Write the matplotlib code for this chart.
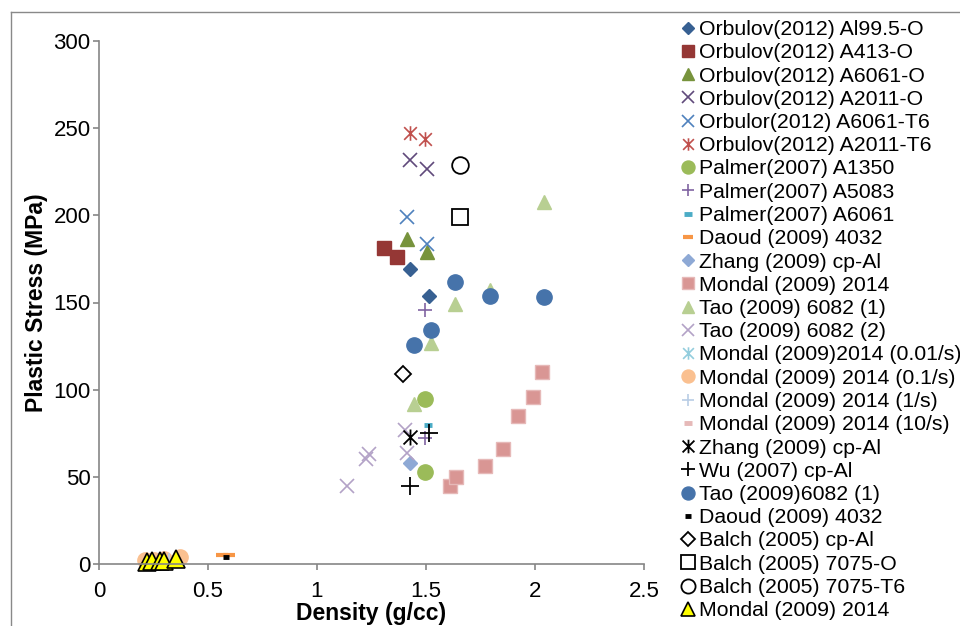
import matplotlib
matplotlib.use("Agg")
import matplotlib.pyplot as plt
from matplotlib.path import Path
from matplotlib.lines import Line2D

plt.rcParams["font.family"] = ["Liberation Sans", "DejaVu Sans"]

# data (density g/cc, plastic stress MPa)
orb_al995_x = [1.425, 1.512]
orb_al995_y = [169, 154]
orb_a413_x = [1.307, 1.365]
orb_a413_y = [181, 176]
orb_a6061o_x = [1.414, 1.503]
orb_a6061o_y = [186.5, 179]
orb_a2011o_x = [1.425, 1.503]
orb_a2011o_y = [232, 226.5]
orb_a6061t6_x = [1.414, 1.503]
orb_a6061t6_y = [199, 183.5]
orb_a2011t6_x = [1.425, 1.494]
orb_a2011t6_y = [247.5, 243.5]
pal_a1350_x = [1.494, 1.494]
pal_a1350_y = [94.5, 53]
pal_a5083_x = [1.494, 1.494]
pal_a5083_y = [145.5, 72]
pal_a6061_x = [1.509]
pal_a6061_y = [79.5]
daoud_x = [0.565, 0.595]
daoud_y = [5.2, 5.2]
zhang_x = [1.425]
zhang_y = [58]
mondal_x = [1.608, 1.636, 1.771, 1.852, 1.922, 1.991, 2.030]
mondal_y = [45, 50, 56, 66, 85, 96, 110]
tao1_x = [1.444, 1.524, 1.633, 1.792, 2.042]
tao1_y = [92, 127, 149, 157, 207.5]
tao2_x = [1.138, 1.225, 1.240, 1.403, 1.414]
tao2_y = [44.5, 60, 63, 77, 63.5]
mondal_001_x = [0.23, 0.27, 0.31]
mondal_001_y = [1.0, 1.5, 2.0]
mondal_01_x = [0.21, 0.25, 0.30, 0.37]
mondal_01_y = [2.3, 2.5, 3.0, 3.8]
mondal_1_x = [0.24, 0.28, 0.32]
mondal_1_y = [1.2, 1.6, 2.2]
mondal_10_x = [0.25, 0.29, 0.34]
mondal_10_y = [1.3, 1.8, 2.5]
zhang_b_x = [1.425]
zhang_b_y = [73]
wu_x = [1.425, 1.513]
wu_y = [44.7, 75]
tao1b_x = [1.444, 1.524, 1.633, 1.792, 2.042]
tao1b_y = [125.5, 134.5, 162, 154, 153]
daoud_b_x = [0.584]
daoud_b_y = [3.8]
balch_cp_x = [1.396]
balch_cp_y = [109]
balch_o_x = [1.654]
balch_o_y = [199]
balch_t6_x = [1.654]
balch_t6_y = [229]
mondal_y_x = [0.22, 0.245, 0.28, 0.30, 0.355]
mondal_y_y = [1.0, 1.5, 2.0, 2.0, 3.0]

star = Path([(-1, -1), (1, 1), (-1, 1), (1, -1), (0, -1.15), (0, 1.15)],
            [Path.MOVETO, Path.LINETO, Path.MOVETO, Path.LINETO,
             Path.MOVETO, Path.LINETO])

series = [
    ("Orbulov(2012) Al99.5-O", orb_al995_x, orb_al995_y,
     dict(marker="D", ms=7, mfc="#376092", mec="#376092")),
    ("Orbulov(2012) A413-O", orb_a413_x, orb_a413_y,
     dict(marker="s", ms=10.5, mfc="#953735", mec="#953735")),
    ("Orbulov(2012) A6061-O", orb_a6061o_x, orb_a6061o_y,
     dict(marker="^", ms=10.5, mfc="#77933C", mec="#77933C")),
    ("Orbulov(2012) A2011-O", orb_a2011o_x, orb_a2011o_y,
     dict(marker="x", ms=10.5, mew=1.2, mec="#604A7B")),
    ("Orbulor(2012) A6061-T6", orb_a6061t6_x, orb_a6061t6_y,
     dict(marker="x", ms=10.5, mew=1.2, mec="#4F81BD")),
    ("Orbulov(2012) A2011-T6", orb_a2011t6_x, orb_a2011t6_y,
     dict(marker=star, ms=10.5, mew=1.2, mec="#C0504D", mfc="none")),
    ("Palmer(2007) A1350", pal_a1350_x, pal_a1350_y,
     dict(marker="o", ms=11, mfc="#9BBB59", mec="#9BBB59")),
    ("Palmer(2007) A5083", pal_a5083_x, pal_a5083_y,
     dict(marker="+", ms=10.5, mew=1.2, mec="#8064A2")),
    ("Palmer(2007) A6061", pal_a6061_x, pal_a6061_y,
     dict(marker="_", ms=6, mew=3.5, mec="#4BACC6")),
    ("Daoud (2009) 4032", daoud_x, daoud_y,
     dict(marker="_", ms=8, mew=3, mec="#F79646")),
    ("Zhang (2009) cp-Al", zhang_x, zhang_y,
     dict(marker="D", ms=7, mfc="#8EA9D5", mec="#8EA9D5")),
    ("Mondal (2009) 2014", mondal_x, mondal_y,
     dict(marker="s", ms=10.5, mfc="#D99694", mec="#E6B9B8")),
    ("Tao (2009) 6082 (1)", tao1_x, tao1_y,
     dict(marker="^", ms=10.5, mfc="#B8CF92", mec="#B8CF92")),
    ("Tao (2009) 6082 (2)", tao2_x, tao2_y,
     dict(marker="x", ms=10.5, mew=1.2, mec="#B3A2C7")),
    ("Mondal (2009)2014 (0.01/s)", mondal_001_x, mondal_001_y,
     dict(marker=star, ms=10.5, mew=1.2, mec="#93CDDD", mfc="none")),
    ("Mondal (2009) 2014 (0.1/s)", mondal_01_x, mondal_01_y,
     dict(marker="o", ms=11, mfc="#FAC090", mec="#FAC090")),
    ("Mondal (2009) 2014 (1/s)", mondal_1_x, mondal_1_y,
     dict(marker="+", ms=10.5, mew=1.2, mec="#B9CDE5")),
    ("Mondal (2009) 2014 (10/s)", mondal_10_x, mondal_10_y,
     dict(marker="_", ms=6, mew=3.5, mec="#E6B9B8")),
    ("Zhang (2009) cp-Al", zhang_b_x, zhang_b_y,
     dict(marker=star, ms=11.5, mew=1.3, mec="black", mfc="none")),
    ("Wu (2007) cp-Al", wu_x, wu_y,
     dict(marker="+", ms=12.5, mew=1.3, mec="black")),
    ("Tao (2009)6082 (1)", tao1b_x, tao1b_y,
     dict(marker="o", ms=11, mfc="#4673AA", mec="#4673AA")),
    ("Daoud (2009) 4032", daoud_b_x, daoud_b_y,
     dict(marker="_", ms=5, mew=3.5, mec="black")),
    ("Balch (2005) cp-Al", balch_cp_x, balch_cp_y,
     dict(marker="D", ms=8.5, mfc="white", mec="black", mew=1.3)),
    ("Balch (2005) 7075-O", balch_o_x, balch_o_y,
     dict(marker="s", ms=11.5, mfc="white", mec="black", mew=1.3)),
    ("Balch (2005) 7075-T6", balch_t6_x, balch_t6_y,
     dict(marker="o", ms=12, mfc="white", mec="black", mew=1.3)),
    ("Mondal (2009) 2014", mondal_y_x, mondal_y_y,
     dict(marker="^", ms=12.5, mfc="#FFFF00", mec="black", mew=1.2)),
]

fig = plt.figure(figsize=(9.6, 6.26), dpi=100)
W, H = 960, 626
ax = fig.add_axes([99 / W, 1 - 564 / H, 545 / W, 523 / H])

for label, x, y, style in series:
    ax.plot(x, y, linestyle="none", label=label, clip_on=False, **style)

ax.set_xlim(0, 2.5)
ax.set_ylim(0, 300)
ax.set_xticks([0, 0.5, 1, 1.5, 2, 2.5])
ax.set_xticklabels(["0", "0.5", "1", "1.5", "2", "2.5"])
ax.set_yticks(range(0, 301, 50))
for side in ["top", "right"]:
    ax.spines[side].set_visible(False)
for side in ["left", "bottom"]:
    ax.spines[side].set_color("#868686")
    ax.spines[side].set_linewidth(1.2)
ax.tick_params(colors="#868686", labelcolor="black", length=4, width=1.2,
               labelsize=16)
ax.tick_params(axis="x", pad=8)
ax.tick_params(axis="y", pad=2)

ax.set_xlabel("Density (g/cc)", fontsize=16.5, fontweight="bold", labelpad=0)
ax.set_ylabel("Plastic Stress (MPa)", fontsize=16.5, fontweight="bold",
              labelpad=4)

leg = fig.legend(loc="upper left", bbox_to_anchor=(683 / W, 1 - 20 / H),
                 frameon=False, fontsize=15.3, handlelength=0.5,
                 handletextpad=0.25, borderpad=0, borderaxespad=0,
                 labelspacing=0.2, markerscale=0.85)

# outer chart frame (cropped at right and bottom)
fig.add_artist(Line2D([11 / W, 1], [1 - 12 / H, 1 - 12 / H],
                      color="#898989", lw=1, transform=fig.transFigure))
fig.add_artist(Line2D([11 / W, 11 / W], [0, 1 - 12 / H],
                      color="#898989", lw=1, transform=fig.transFigure))

fig.savefig("out.png", dpi=100)
